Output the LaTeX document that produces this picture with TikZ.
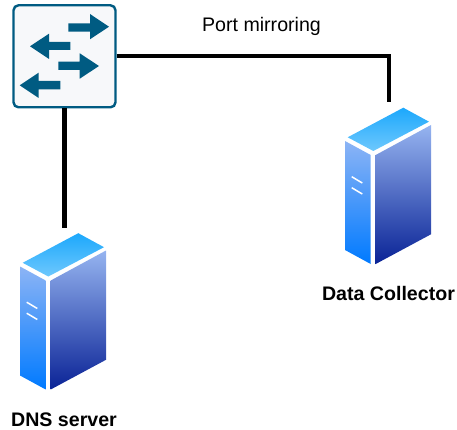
\documentclass[tikz,border=0pt]{standalone}
\usepackage{fontspec}
\setmainfont{Liberation Sans}
\usetikzlibrary{calc}
\definecolor{swc}{HTML}{005B82}
\definecolor{swfill}{HTML}{F7F8FA}
\tikzset{
  link/.style={draw=black,line width=4.4pt},
  switchbox/.style={draw=swc,line width=2.4pt,fill=swfill,rounded corners=5pt,minimum width=102pt,minimum height=102pt,inner sep=0pt},
  swarrow/.style={fill=swc,draw=none},
  lab/.style={font=\fontsize{19.6}{23}\selectfont,inner sep=0pt},
  blab/.style={font=\bfseries\fontsize{19.6}{23}\selectfont,inner sep=0pt},
  pics/server/.style={code={
    \path[shade,top color={rgb,255:red,28;green,168;blue,252},bottom color={rgb,255:red,110;green,200;blue,253}]
      (0,0)--(25.7,14)--(-30,43.3)--(-55.6,29.6)--cycle;
    \path[shade,top color={rgb,255:red,140;green,180;blue,245},bottom color={rgb,255:red,0;green,122;blue,255}]
      (-58.3,33.3)--(-32.6,47.3)--(-32.6,156.3)--(-58.3,142.3)--cycle;
    \path[shade,top color={rgb,255:red,150;green,180;blue,240},bottom color={rgb,255:red,10;green,35;blue,150}]
      (-27.6,47.3)--(27.7,17.3)--(27.7,126.6)--(-27.6,156.3)--cycle;
    \draw[white,line width=1.5pt] (-51.6,69)--(-41,75.3) (-51.6,80)--(-41,86.3);
  }}
}
\begin{document}
\begin{tikzpicture}[x=1pt,y=-1pt]
\useasboundingbox (0,0) rectangle (457,430);
\node[switchbox] (sw) at (64.5,56.3) {};
\coordinate (swr) at (sw.east);
\coordinate (swb) at (sw.south);
\coordinate (dcin) at (389,102);
\coordinate (dnsin) at (64.5,228);
\draw[link] (swr) -- (dcin |- swr) -- (dcin);
\draw[link] (swb) -- (dnsin);
% arrows
\fill[swarrow] (68.3,23.3)--(90,23.3)--(90,14)--(109,26.7)--(90,39.3)--(90,31.7)--(68.3,31.7)--cycle;
\fill[swarrow] (70.3,42)--(49,42)--(49,33.7)--(30,46.3)--(49,59)--(49,50)--(70.3,50)--cycle;
\fill[swarrow] (58.3,61.7)--(79.7,61.7)--(79.7,53.3)--(99,66)--(79.7,78.7)--(79.7,70)--(58.3,70)--cycle;
\fill[swarrow] (60.3,81)--(38.7,81)--(38.7,72.7)--(19.7,85.3)--(38.7,98)--(38.7,89.3)--(60.3,89.3)--cycle;
\pic at (403.3,107.7) {server};
\pic at (78.3,233.2) {server};
\node[lab] (pm) at (261.5,26) {Port mirroring};
\node[blab] (dc) at (388.5,293) {Data Collector};
\node[blab] (dns) at (64,420) {DNS server};
\end{tikzpicture}
\end{document}
